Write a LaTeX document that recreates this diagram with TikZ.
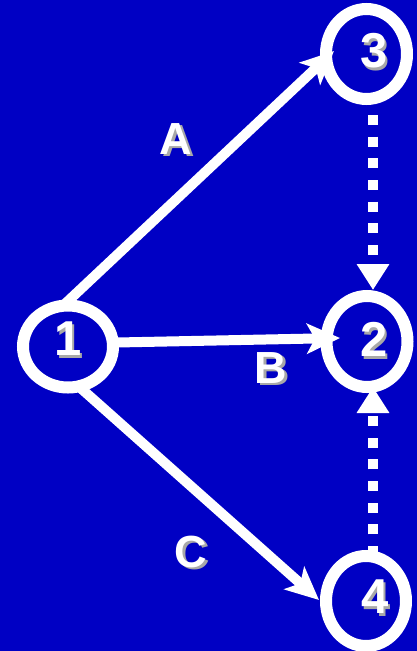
\documentclass[tikz,border=0pt]{standalone}
\usepackage{fontspec}
\setmainfont{Liberation Sans}
\usetikzlibrary{arrows.meta,shapes.geometric,calc}
\definecolor{bgblue}{HTML}{0000C4}
\definecolor{shadowgray}{HTML}{A8A8A8}
\newcommand\shd[1]{\rlap{\hspace{2.5pt}\raisebox{-2.5pt}{\textcolor{shadowgray}{#1}}}#1}
\begin{document}
\begin{tikzpicture}[x=1pt,y=-1pt,
  ring/.style={ellipse,draw=white,line width=12pt,inner sep=0pt,outer sep=0pt},
  num/.style={text=white,inner sep=0pt,font=\fontsize{49}{49}\selectfont\bfseries},
  lbl/.style={text=white,inner sep=0pt,font=\fontsize{45}{45}\selectfont\bfseries},
  solidarrow/.style={draw=white,line width=10pt,-{Stealth[length=33pt,width=30pt,inset=8pt]}},
  dotarrow/.style={draw=white,line width=10pt,dash pattern=on 10pt off 11.67pt,-{Triangle[length=26pt,width=31pt]}}]
\fill[bgblue] (0,0) rectangle (417,651);
\useasboundingbox (0,0) rectangle (417,651);
\node[ring,minimum width=90pt,minimum height=82pt] (n1) at (68,346.5) {};
\node[ring,minimum width=81pt,minimum height=90pt] (n3) at (366.5,54) {};
\node[ring,minimum width=81pt,minimum height=91pt] (n2) at (367,341.5) {};
\node[ring,minimum width=80pt,minimum height=90pt] (n4) at (366,601) {};
\coordinate (colx) at (373,0);
\draw[solidarrow] (n1.97) -- ($(n3.west)+(8,-3)$);
\draw[solidarrow] (n1.5) -- ($(n2.west)+(13.5,-3.5)$);
\draw[solidarrow] (n1.-75) -- ($(n4.west)+(-7,-1)$);
\draw[dotarrow,dash phase=5.67pt] (n3.south -| colx) -- ($(n2.north -| colx)+(0,-6)$);
\draw[dotarrow] (n4.north -| colx) -- (n2.south -| colx);
\node[num] (t1) at (68,340) {\shd{1}};
\node[num] (t3) at (374,52) {\shd{3}};
\node[num] (t2) at (374,341) {\shd{2}};
\node[num] (t4) at (375,598) {\shd{4}};
\node[lbl] (la) at (176,140) {\shd{A}};
\node[lbl] (lb) at (271,369) {\shd{B}};
\node[lbl] (lc) at (191,553) {\shd{C}};
\end{tikzpicture}
\end{document}
